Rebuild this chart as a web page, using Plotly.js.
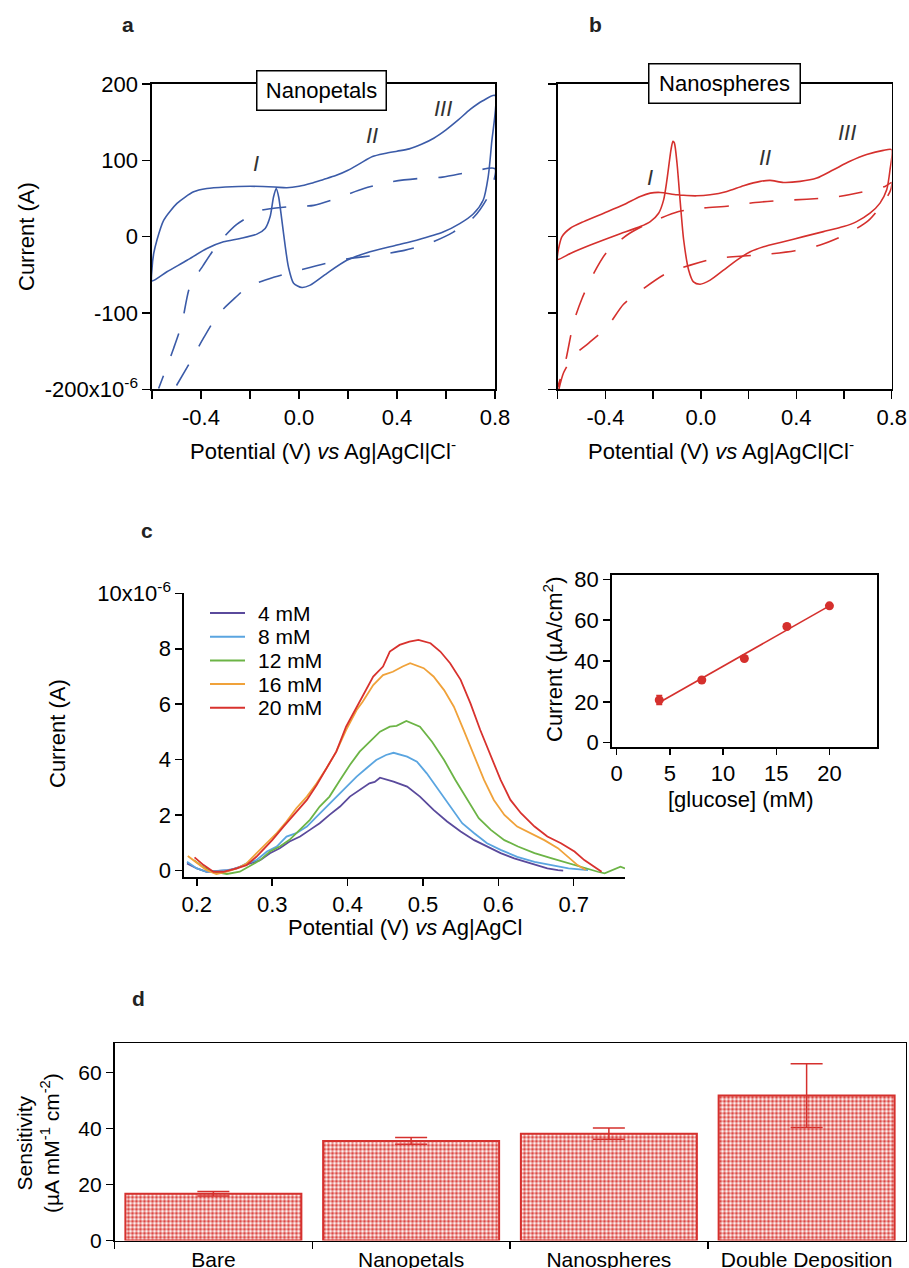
<!DOCTYPE html>
<html><head><meta charset="utf-8">
<script src="https://cdn.plot.ly/plotly-3.0.1.min.js"></script>
<style>html,body{margin:0;padding:0;background:#fff}#chart{width:909px;height:1268px}</style>
</head><body><div id="chart"></div>
<script>
// ---------- Panel a (Nanopetals) CV, current in µA ----------
const aSolidX = [-0.6,-0.6,-0.593,-0.58,-0.552,-0.498,-0.43,-0.376,-0.3,-0.2,-0.1,-0.05,0.0,0.05,0.1,0.15,0.2,0.25,0.3,0.35,0.4,0.45,0.5,0.55,0.6,0.65,0.7,0.75,0.8,
  0.786,0.772,0.752,0.712,0.656,0.588,0.48,0.4,0.277,0.195,0.114,0.046,0.012,-0.022,-0.043,-0.056,-0.07,-0.083,-0.093,-0.104,-0.118,-0.138,-0.172,-0.24,-0.308,-0.376,-0.457,-0.539,-0.6];
const aSolidY = [-58,-42,-22,-4.6,21.6,43.5,58.7,63,65,66,65,64,66,70,75,80,87,96,105,109,112,115,121,129,140,153,167,178,185,
  122,78,48,30,17,6,-4.6,-11,-21,-31,-48,-63.5,-66.6,-61,-40,-13,21.6,52,63,52,26,10.7,3.3,-2.4,-6.8,-15.5,-31,-46,-58];
const aDashX = [-0.50,-0.44,-0.39,-0.33,-0.26,-0.21,-0.10,-0.01,0.11,0.20,0.32,0.43,0.53,0.63,0.715,0.777,0.8,
  0.702,0.586,0.483,0.374,0.265,0.169,0.06,-0.05,-0.152,-0.254,-0.33,-0.391,-0.446,-0.478,-0.512,-0.573];
const aDashY = [-195,-162,-133,-102,-80,-66,-53,-45,-35,-29,-24,-18,-9,6,26,56,89,
  85,78,76,71.8,63,52,41,39,34.6,16,-9,-37.6,-66,-113.8,-146.5,-199];

// ---------- Panel b (Nanospheres) CV ----------
const bSolidX = [-0.6,-0.6,-0.582,-0.547,-0.491,-0.407,-0.324,-0.254,-0.212,-0.17,-0.1,-0.017,0.039,0.109,0.179,0.249,0.29,0.346,0.416,0.486,0.556,0.625,0.695,0.765,0.8,
  0.793,0.779,0.751,0.709,0.653,0.598,0.514,0.43,0.346,0.263,0.207,0.151,0.095,0.039,-0.003,-0.031,-0.051,-0.072,-0.086,-0.1,-0.111,-0.117,-0.125,-0.142,-0.156,-0.177,-0.212,-0.254,-0.352,-0.463,-0.547,-0.6];
const bSolidY = [-29.8,-22,0,11,19.7,30.7,41.7,52.6,57,57.9,54.8,53.5,54.8,59.2,66.7,72.4,73.7,71,72.4,76.8,87.7,98.7,107.5,113,114,
  87.7,61.4,43.9,30.7,19.7,13.2,6.6,0,-6.6,-13.2,-19.7,-30.7,-43.9,-57,-62.3,-59.2,-43.9,-4.4,43.9,96.5,122.8,125,114,74.6,48.2,30.7,19.7,13.2,2.2,-11,-22,-29.8];
const bDashX = [-0.595,-0.575,-0.53,-0.47,-0.393,-0.324,-0.24,-0.149,-0.044,0.06,0.179,0.284,0.395,0.5,0.612,0.702,0.772,0.796,
  0.8,0.772,0.667,0.563,0.444,0.339,0.228,0.123,0.004,-0.093,-0.212,-0.303,-0.393,-0.449,-0.498,-0.533,-0.568,-0.6];
const bDashY = [-200,-178,-155,-139.5,-118.4,-88.6,-68,-49,-37.3,-28.5,-25.4,-22.8,-18.4,-11,3.5,21,47.4,61.4,
  71,65.8,57.9,51.8,49,47.4,44.7,40.4,37.3,32.9,18.4,3.5,-19.7,-48,-81,-112,-164.5,-197];

// ---------- Panel c: DPV curves (µA) ----------
const cNames = ['4 mM','8 mM','12 mM','16 mM','20 mM'];
const c4X = [0.187,0.200,0.213,0.226,0.244,0.257,0.270,0.284,0.297,0.310,0.323,0.337,0.350,0.363,0.376,0.390,0.403,0.416,0.429,0.436,0.443,0.461,0.479,0.496,0.514,0.532,0.550,0.568,0.585,0.603,0.621,0.643,0.665,0.679,0.686];
const c4Y = [0.26,0.08,-0.04,-0.01,0.02,0.14,0.26,0.38,0.63,0.81,1.05,1.23,1.47,1.71,2.01,2.31,2.67,2.91,3.15,3.20,3.35,3.21,3.03,2.67,2.19,1.77,1.41,1.10,0.87,0.63,0.44,0.26,0.08,0.02,0.00];
const c8X = [0.187,0.200,0.213,0.226,0.240,0.253,0.266,0.279,0.293,0.306,0.319,0.332,0.346,0.359,0.372,0.385,0.398,0.412,0.425,0.438,0.451,0.461,0.479,0.492,0.505,0.521,0.536,0.552,0.568,0.585,0.603,0.625,0.648,0.670,0.693,0.719];
const c8Y = [0.32,0.08,-0.04,-0.01,0.02,0.08,0.26,0.38,0.69,0.87,1.23,1.35,1.59,1.95,2.31,2.67,3.03,3.39,3.69,3.99,4.17,4.25,4.11,3.93,3.51,2.91,2.31,1.71,1.35,0.99,0.75,0.50,0.32,0.20,0.08,0.02];
const c12X = [0.196,0.209,0.222,0.240,0.257,0.270,0.284,0.297,0.310,0.323,0.337,0.350,0.363,0.376,0.390,0.403,0.416,0.429,0.443,0.456,0.465,0.478,0.496,0.512,0.528,0.543,0.559,0.574,0.590,0.608,0.626,0.648,0.671,0.693,0.715,0.732,0.741,0.754,0.762,0.768];
const c12Y = [0.38,0.12,-0.04,-0.12,-0.04,0.17,0.38,0.69,0.87,1.11,1.47,1.83,2.31,2.67,3.27,3.81,4.29,4.65,5.01,5.19,5.22,5.40,5.19,4.65,3.99,3.27,2.55,1.89,1.47,1.10,0.87,0.63,0.44,0.26,0.08,-0.04,-0.10,0.05,0.14,0.08];
const c16X = [0.188,0.200,0.213,0.226,0.240,0.253,0.266,0.279,0.293,0.306,0.319,0.332,0.346,0.359,0.372,0.385,0.398,0.412,0.420,0.434,0.447,0.460,0.473,0.483,0.501,0.514,0.528,0.541,0.554,0.568,0.581,0.594,0.608,0.625,0.643,0.661,0.679,0.693,0.705,0.716];
const c16Y = [0.53,0.29,0.02,-0.12,-0.04,0.08,0.26,0.62,0.99,1.35,1.77,2.25,2.67,3.15,3.69,4.29,5.07,5.79,6.09,6.69,7.05,7.17,7.36,7.48,7.30,7.00,6.51,5.91,5.07,4.11,3.27,2.55,2.01,1.59,1.35,1.10,0.81,0.50,0.20,0.02];
const c20X = [0.197,0.209,0.222,0.235,0.253,0.266,0.279,0.288,0.300,0.315,0.332,0.346,0.359,0.372,0.385,0.398,0.412,0.420,0.434,0.447,0.456,0.469,0.482,0.494,0.510,0.523,0.536,0.550,0.563,0.576,0.590,0.603,0.616,0.630,0.648,0.665,0.683,0.701,0.714,0.728,0.737];
const c20Y = [0.48,0.20,-0.04,-0.04,0.08,0.20,0.50,0.75,1.10,1.59,2.13,2.55,3.09,3.69,4.29,5.19,5.91,6.27,7.00,7.36,7.90,8.14,8.26,8.32,8.20,7.90,7.48,6.88,6.03,5.07,4.11,3.27,2.55,2.07,1.59,1.23,0.99,0.69,0.38,0.14,-0.04];

// ---------- Inset: calibration ----------
const glucose = [4,8,12,16,20];
const calCurrent = [20.9,30.7,41.2,56.9,67.0];
const calErr = [2.2,0.8,0.8,0.9,0.6];
const fitX = [4,20];
const fitY = [19.7,67.0];

// ---------- Panel d: sensitivity ----------
const electrodes = ['Bare','Nanopetals','Nanospheres','Double Deposition'];
const sensitivity = [16.7,35.6,38.2,51.8];
const sensErr = [0.8,1.2,2.0,11.4];

// ---------- layout helpers ----------
const W=909,H=1268;
const fx=p=>p/W, fy=p=>1-p/H;
const FONT='"Liberation Sans", Arial, Helvetica, sans-serif';
const FS=22;
const BLUE='#3b5ba8', RED='#d5302d';
const cColors=['#5a4a9c','#5aa5e0','#6cb446','#f0a23a','#d8322e'];

function ax(extra){
  return Object.assign({showline:true,linecolor:'#000',linewidth:1.6,ticks:'outside',ticklen:8,tickwidth:1.5,tickcolor:'#000',
    showgrid:false,zeroline:false,tickfont:{family:FONT,size:FS,color:'#000'},fixedrange:true},extra);
}

const traces = [];
traces.push({x:aSolidX,y:aSolidY,xaxis:'x',yaxis:'y',mode:'lines',line:{color:BLUE,width:1.6,shape:'spline',smoothing:0.7},hoverinfo:'skip'});
traces.push({x:aDashX,y:aDashY,xaxis:'x',yaxis:'y',mode:'lines',line:{color:BLUE,width:1.6,shape:'spline',smoothing:0.7,dash:'24px,21px'},hoverinfo:'skip'});
traces.push({x:bSolidX,y:bSolidY,xaxis:'x2',yaxis:'y2',mode:'lines',line:{color:RED,width:1.6,shape:'spline',smoothing:0.7},hoverinfo:'skip'});
traces.push({x:bDashX,y:bDashY,xaxis:'x2',yaxis:'y2',mode:'lines',line:{color:RED,width:1.6,shape:'spline',smoothing:0.7,dash:'24px,21px'},hoverinfo:'skip'});
const cX=[c4X,c8X,c12X,c16X,c20X], cY=[c4Y,c8Y,c12Y,c16Y,c20Y];
for(let i=0;i<5;i++){
  traces.push({x:cX[i],y:cY[i],name:cNames[i],xaxis:'x3',yaxis:'y3',mode:'lines',line:{color:cColors[i],width:1.8},hoverinfo:'skip'});
}
traces.push({x:fitX,y:fitY,xaxis:'x4',yaxis:'y4',mode:'lines',line:{color:RED,width:1.6},hoverinfo:'skip'});
traces.push({x:glucose,y:calCurrent,xaxis:'x4',yaxis:'y4',mode:'markers',marker:{color:RED,size:9},
  error_y:{type:'data',array:calErr,color:RED,thickness:1.5,width:3},hoverinfo:'skip'});
traces.push({x:electrodes,y:sensitivity,xaxis:'x5',yaxis:'y5',type:'bar',
  marker:{color:'#ffffff',line:{color:RED,width:2},pattern:{shape:'.',fgcolor:'#dc4a45',bgcolor:'#ffffff',size:4,solidity:0.55}},
  error_y:{type:'data',array:sensErr,color:RED,thickness:1.5,width:16},hoverinfo:'skip'});

const cvTicks={tickvals:[-0.4,0,0.4,0.8],ticktext:['-0.4','0.0','0.4','0.8'],
  minor:{tickmode:'array',tickvals:[-0.6,-0.2,0.2,0.6],ticks:'outside',ticklen:8,tickwidth:1.5,tickcolor:'#000',showgrid:false}};

const layout={
  width:W,height:H,margin:{l:0,r:0,t:0,b:0},paper_bgcolor:'#fff',plot_bgcolor:'rgba(0,0,0,0)',
  font:{family:FONT,size:FS,color:'#000'},
  showlegend:false,
  bargap:0.11,
  xaxis:ax(Object.assign({domain:[fx(152),fx(495)],anchor:'y',range:[-0.6,0.8],mirror:true},cvTicks)),
  yaxis:ax({domain:[fy(389.3),fy(84)],anchor:'x',range:[-200,200],mirror:true,tickvals:[-200,-100,0,100,200],
    ticktext:['-200x10<sup>-6</sup>','-100','0','100','200']}),
  xaxis2:ax(Object.assign({domain:[fx(557.7),fx(891.7)],anchor:'y2',range:[-0.6,0.8],mirror:true},cvTicks)),
  yaxis2:ax({domain:[fy(389.3),fy(84)],anchor:'x2',range:[-200,200],mirror:true,tickvals:[-200,-100,0,100,200],showticklabels:false}),
  xaxis3:ax({domain:[fx(184),fx(625)],anchor:'y3',range:[0.183,0.768],tickvals:[0.2,0.3,0.4,0.5,0.6,0.7],
    ticktext:['0.2','0.3','0.4','0.5','0.6','0.7'],ticklen:7}),
  yaxis3:ax({domain:[fy(877.3),fy(593.3)],anchor:'x3',range:[-0.24,10],tickvals:[0,2,4,6,8,10],
    ticktext:['0','2','4','6','8','10x10<sup>-6</sup>'],ticklen:7}),
  xaxis4:ax({domain:[fx(611.7),fx(877.3)],anchor:'y4',range:[-0.47,24.5],tickvals:[0,5,10,15,20],mirror:true,ticklen:6}),
  yaxis4:ax({domain:[fy(747.3),fy(575)],anchor:'x4',range:[-2.25,82.1],tickvals:[0,20,40,60,80],mirror:true,ticklen:7}),
  xaxis5:ax({domain:[fx(114.5),fx(905.5)],anchor:'y5',type:'category',tickson:'boundaries',mirror:true,ticklen:7,
    tickfont:{family:FONT,size:21,color:'#000'}}),
  yaxis5:ax({domain:[fy(1240.5),fy(1043.3)],anchor:'x5',range:[0,70.5],tickvals:[0,20,40,60],mirror:true,ticklen:7,
    tickfont:{family:FONT,size:21,color:'#000'}}),
  annotations:[],
  shapes:[]
};

function note(text,x,y,opt){
  layout.annotations.push(Object.assign({text:text,xref:'paper',yref:'paper',x:fx(x),y:fy(y),showarrow:false,
    xanchor:'center',yanchor:'middle',font:{family:FONT,size:FS,color:'#000'}},opt||{}));
}
// panel letters
note('<b>a</b>',128,25,{font:{family:FONT,size:21,color:'#222'}});
note('<b>b</b>',595,25,{font:{family:FONT,size:21,color:'#222'}});
note('<b>c</b>',147,530,{font:{family:FONT,size:21,color:'#222'}});
note('<b>d</b>',138,998,{font:{family:FONT,size:21,color:'#222'}});
// axis titles
note('Current (A)',27,237,{textangle:-90});
note('Potential (V) <i>vs</i> Ag|AgCl|Cl<sup>-</sup>',323,450);
note('Potential (V) <i>vs</i> Ag|AgCl|Cl<sup>-</sup>',721,450);
note('Current (A)',57,733,{textangle:-90});
note('Potential (V) <i>vs</i> Ag|AgCl',405,927);
note('Current (µA/cm<sup>2</sup>)',553,660,{textangle:-90});
note('[glucose] (mM)',740,799);
note('Sensitivity<br>(µA mM<sup>-1</sup> cm<sup>-2</sup>)',38,1143,{textangle:-90,font:{family:FONT,size:21,color:'#000'}});
// boxed labels
note('Nanopetals',321.7,90.5,{bgcolor:'#fff',bordercolor:'#000',borderwidth:1.5,borderpad:4,width:120,height:30});
note('Nanospheres',724.5,83,{bgcolor:'#fff',bordercolor:'#000',borderwidth:1.5,borderpad:4,width:142,height:30});
// peak labels (data coordinates)
function roman(text,xr,yr,x,y){
  layout.annotations.push({text:'<i>'+text+'</i>',xref:xr,yref:yr,x:x,y:y,showarrow:false,xanchor:'center',yanchor:'middle',
    font:{family:FONT,size:FS,color:'#333'}});
}
roman('I','x','y',-0.176,96); roman('II','x','y',0.298,133); roman('III','x','y',0.588,168);
roman('I','x2','y2',-0.213,77); roman('II','x2','y2',0.269,104); roman('III','x2','y2',0.611,136);

// legend for panel c (keys)
const legendTop=613, legendStep=23.7;
for(let i=0;i<5;i++){
  const yy=legendTop+i*legendStep;
  layout.shapes.push({type:'line',xref:'paper',yref:'paper',x0:fx(210),x1:fx(245),y0:fy(yy),y1:fy(yy),line:{color:cColors[i],width:2}});
  note(cNames[i],256,yy,{xanchor:'left',font:{family:FONT,size:21,color:'#000'}});
}

Plotly.newPlot('chart',traces,layout,{staticPlot:true,displayModeBar:false});
</script>
</body></html>
